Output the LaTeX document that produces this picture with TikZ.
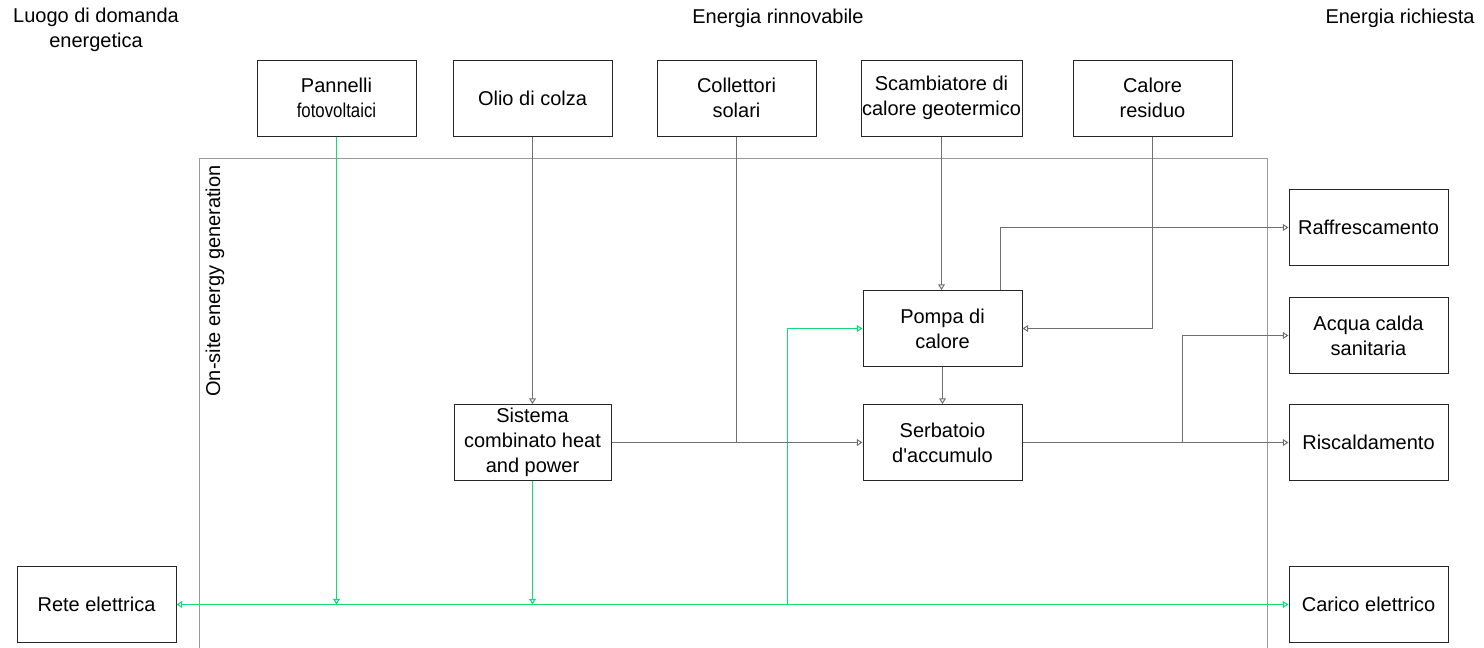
\documentclass[tikz,border=0pt]{standalone}
\usepackage{fontspec}
\setmainfont{Liberation Sans}[Ligatures=TeXOff]
\usetikzlibrary{arrows.meta}
\definecolor{flowgray}{HTML}{707070}
\definecolor{elecgreen}{HTML}{10DC78}
\definecolor{framegray}{HTML}{9A9A9A}
\begin{document}
\begin{tikzpicture}[x=0.5pt,y=-0.5pt,
  font=\fontsize{10pt}{12.5pt}\selectfont,
  tip/.tip={Triangle[open,length=2.8pt,width=3.4pt]},
  box/.style={draw=black!85,line width=0.5pt,minimum width=79.5pt,minimum height=38pt,
    inner sep=0pt,align=center,fill=white},
  flow/.style={draw=flowgray,line width=0.5pt},
  elec/.style={draw=elecgreen,line width=0.55pt},
  title/.style={align=center,inner sep=0pt}]
\useasboundingbox (0,0) rectangle (1484,648);

% on-site generation frame
\draw[framegray,line width=0.7pt] (199.5,158.5) rectangle (1267.5,680);
\node[rotate=90,anchor=east,inner sep=0pt] (onsite) at (215,165) {On-site energy generation};

% column headings
\node[title] (hleft) at (96,30) {Luogo di domanda\\energetica};
\node[title] (hmid) at (778,18) {Energia rinnovabile};
\node[title] (hright) at (1400,18) {Energia richiesta};

% renewable sources
\node[box] (pv) at (336.5,98) {Pannelli\\\scalebox{0.84}[1]{fotovoltaici}};
\node[box] (olio) at (532.5,98) {Olio di colza};
\node[box] (coll) at (736.5,98) {Collettori\\solari};
\node[box,minimum width=80.5pt] (scamb) at (941.5,98) {Scambiatore di\\calore geotermico};
\node[box] (resid) at (1152.5,98) {Calore\\residuo};

% conversion and storage
\node[box] (pompa) at (942.5,328.5) {Pompa di\\calore};
\node[box] (serb) at (942.5,442.5) {Serbatoio\\d'accumulo};
\node[box,minimum width=78.5pt] (chp) at (532.5,442.5) {Sistema\\combinato heat\\and power};

% demands
\node[box] (raff) at (1368.5,227.5) {Raffrescamento};
\node[box] (acqua) at (1368.5,335.5) {Acqua calda\\sanitaria};
\node[box] (risc) at (1368.5,442.5) {Riscaldamento};
\node[box] (carico) at (1368.5,604.5) {Carico elettrico};
\node[box] (rete) at (96.5,604.5) {Rete elettrica};

% junction points
\coordinate (jgreen) at (787.5,604.5);
\coordinate (jcool) at (1000.5,290);
\coordinate (jdhw) at (1182.5,442.5);

% electricity
\draw[elec,{tip}-{tip}] (rete.east) -- (carico.west);
\draw[elec,-{tip}] (pv.south) -- (pv.south |- rete.east);
\draw[elec,-{tip}] (chp.south) -- (chp.south |- rete.east);
\draw[elec,-{tip}] (jgreen) |- (pompa.west);

% heat and fuel
\draw[flow,-{tip}] (olio.south) -- (olio.south |- chp.north);
\draw[flow] (coll.south) -- (coll.south |- serb.west);
\draw[flow,-{tip}] (chp.east) -- (serb.west);
\draw[flow,-{tip}] (scamb.south) -- (scamb.south |- pompa.north);
\draw[flow,-{tip}] (resid.south) |- (pompa.east);
\draw[flow,-{tip}] (jcool) |- (raff.west);
\draw[flow,-{tip}] (pompa.south) -- (serb.north);
\draw[flow,-{tip}] (serb.east) -- (risc.west);
\draw[flow,-{tip}] (jdhw) |- (acqua.west);
\end{tikzpicture}
\end{document}
